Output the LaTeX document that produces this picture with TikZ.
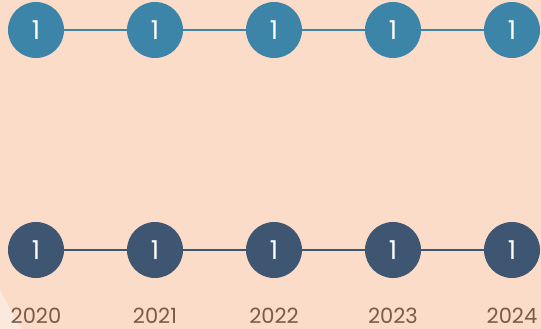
\documentclass[tikz,border=0pt]{standalone}
\usepackage{fontspec}
\setmainfont{Poppins}
\definecolor{bgc}{HTML}{FADCC8}
\definecolor{bglight}{HTML}{FCE9DE}
\definecolor{topc}{HTML}{3D85A8}
\definecolor{botc}{HTML}{3F5673}
\definecolor{yearc}{HTML}{7A5A4A}
\tikzset{
  dot/.style={circle, minimum size=56pt, inner sep=0pt, text=white, font=\fontsize{26}{26}\selectfont},
  topdot/.style={dot, fill=topc},
  botdot/.style={dot, fill=botc},
  topline/.style={draw=topc, line width=2.2pt},
  botline/.style={draw=botc, line width=2.2pt},
  year/.style={text=yearc, font=\fontsize{21}{21}\selectfont, inner sep=0pt, anchor=base}
}
\begin{document}
\begin{tikzpicture}[x=1pt,y=-1pt]
\fill[bgc] (0,0) rectangle (541,329);
\useasboundingbox (0,0) rectangle (541,329);
\fill[bglight] (0,290) .. controls (8,305) and (15,318) .. (22,329) -- (0,329) -- cycle;
\foreach \i/\x/\yr in {1/36/2020,2/155/2021,3/274/2022,4/393/2023,5/512/2024}{
  \node[topdot] (t\i) at (\x,30) {1};
  \node[botdot] (b\i) at (\x,250) {1};
  \node[year] (y\i) at (\x,323) {\yr};
}
\foreach \i [count=\j from 2] in {1,2,3,4}{
  \draw[topline] (t\i) -- (t\j);
  \draw[botline] (b\i) -- (b\j);
}
\end{tikzpicture}
\end{document}
